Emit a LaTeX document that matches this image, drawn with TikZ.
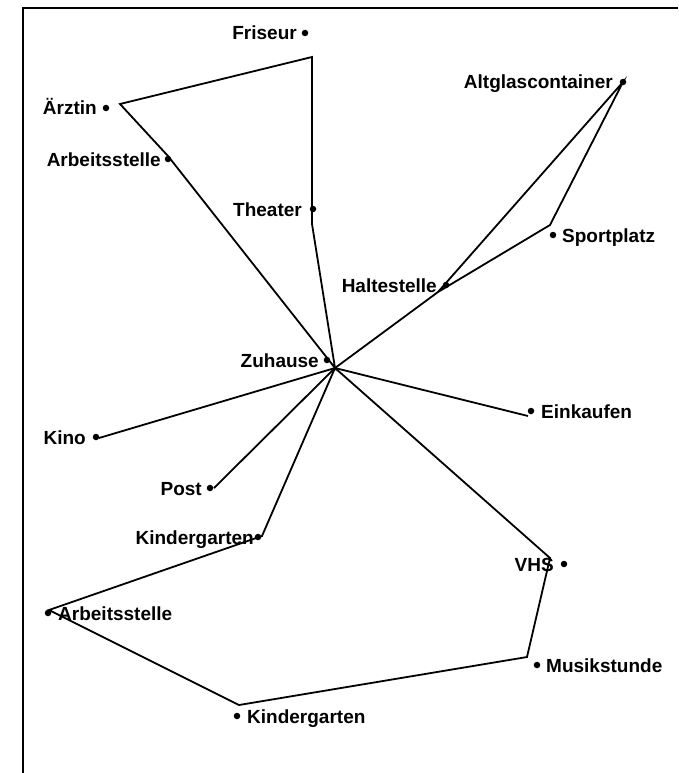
\documentclass[tikz,border=0pt]{standalone}
\usepackage{fontspec}
\setmainfont{Liberation Sans}
\begin{document}
\begin{tikzpicture}[x=1pt,y=-1pt,
  route/.style={line width=1.8pt,line join=miter},
  frameline/.style={line width=2.2pt},
  pt/.style={circle,fill=black,inner sep=0pt,minimum size=6.5pt},
  lblL/.style={anchor=base east,inner sep=0pt,font=\bfseries\fontsize{19}{22}\selectfont},
  lblR/.style={anchor=base west,inner sep=0pt,font=\bfseries\fontsize{19}{22}\selectfont}]
\useasboundingbox (0,0) rectangle (678,773);
% frame
\coordinate (fr1) at (23,773);
\coordinate (fr2) at (23,8);
\coordinate (fr3) at (678,8);
\draw[frameline] (fr1) -- (fr2) -- (fr3);
% route vertices
\coordinate (H) at (335,368);
\coordinate (F) at (312,57);
\coordinate (A) at (120,104);
\coordinate (W1) at (168,156);
\coordinate (T) at (312,224);
\coordinate (G) at (623,82);
\coordinate (S) at (550,225);
\coordinate (Hs) at (438,292);
\coordinate (E) at (528,416);
\coordinate (V) at (550,558);
\coordinate (M) at (527,657);
\coordinate (K2) at (239,705);
\coordinate (W2) at (49,610);
\coordinate (K1) at (262,536);
\coordinate (Ki) at (99,438);
\coordinate (P) at (214,488);
% routes
\draw[route] (H) -- (T) -- (F) -- (A) -- (W1) -- cycle;
\draw[route] (H) -- (Hs) -- (G) -- (S) -- (Hs);
\draw[route] (H) -- (E);
\draw[route] (H) -- (V) -- (M) -- (K2) -- (W2) -- (K1) -- cycle;
\draw[route] (H) -- (Ki);
\draw[route] (H) -- (P);
% dots
\node[pt] (dZu) at (327,360) {};
\node[pt] (dFr) at (305,33) {};
\node[pt] (dAe) at (106,108) {};
\node[pt] (dAr1) at (168,159) {};
\node[pt] (dTh) at (313,209) {};
\node[pt] (dAl) at (623,82) {};
\node[pt] (dSp) at (553,235) {};
\node[pt] (dHa) at (446,285) {};
\node[pt] (dEi) at (531,411) {};
\node[pt] (dVH) at (564,564) {};
\node[pt] (dMu) at (537,665) {};
\node[pt] (dKi2) at (237,716) {};
\node[pt] (dAr2) at (48,613) {};
\node[pt] (dKi1) at (258,537) {};
\node[pt] (dKn) at (96,437) {};
\node[pt] (dPo) at (210,488) {};
% labels
\node[lblL] (lZu) at (319,367) {Zuhause};
\node[lblL] (lFr) at (297,40) {Friseur};
\node[lblL] (lAe) at (97,115) {Ärztin};
\node[lblL] (lAr1) at (161,166) {Arbeitsstelle};
\node[lblL] (lTh) at (302,216) {Theater};
\node[lblL] (lAl) at (613,89) {Altglascontainer};
\node[lblR] (lSp) at (562,242) {Sportplatz};
\node[lblL] (lHa) at (437,292) {Haltestelle};
\node[lblR] (lEi) at (541,418) {Einkaufen};
\node[lblL] (lVH) at (554,571) {VHS};
\node[lblR] (lMu) at (546,672) {Musikstunde};
\node[lblR] (lKi2) at (247,723) {Kindergarten};
\node[lblR] (lAr2) at (58,620) {Arbeitsstelle};
\node[lblL] (lKi1) at (254,544) {Kindergarten};
\node[lblL] (lKn) at (86,444) {Kino};
\node[lblL] (lPo) at (202,495) {Post};
\end{tikzpicture}
\end{document}
